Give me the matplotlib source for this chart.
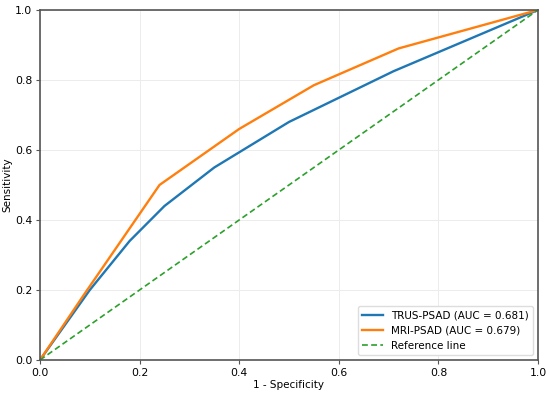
import matplotlib
matplotlib.use("Agg")
import matplotlib.pyplot as plt

# ROC points
trus_fpr = [0.0, 0.10, 0.18, 0.25, 0.35, 0.50, 0.71, 1.0]
trus_tpr = [0.0, 0.20, 0.34, 0.44, 0.55, 0.68, 0.825, 1.0]
mri_fpr = [0.0, 0.09, 0.24, 0.40, 0.55, 0.72, 1.0]
mri_tpr = [0.0, 0.19, 0.50, 0.66, 0.785, 0.89, 1.0]
ref_x = [0.0, 1.0]
ref_y = [0.0, 1.0]
trus_label = "TRUS-PSAD (AUC = 0.681)"
mri_label = "MRI-PSAD (AUC = 0.679)"

fig = plt.figure(figsize=(5.5, 3.96), dpi=100)
ax = fig.add_axes([0.0727, 0.0909, 0.9055, 0.884])

ax.plot(trus_fpr, trus_tpr, color="#1f77b4", lw=1.7, label=trus_label)
ax.plot(mri_fpr, mri_tpr, color="#ff7f0e", lw=1.7, label=mri_label)
ax.plot(ref_x, ref_y, color="#2ca02c", lw=1.2, ls=(0, (3.5, 2)), label="Reference line")

ax.set_xlim(0, 1)
ax.set_ylim(0, 1)
ax.set_xticks([0, 0.2, 0.4, 0.6, 0.8, 1.0])
ax.set_yticks([0, 0.2, 0.4, 0.6, 0.8, 1.0])
ax.tick_params(labelsize=7.8, length=3, pad=2.5, color="#555555")
ax.grid(True, color="#ececec", lw=0.7)
for s in ax.spines.values():
    s.set_color("#555555")
    s.set_linewidth(1.2)
ax.set_xlabel("1 - Specificity", fontsize=7.5, labelpad=2)
ax.set_ylabel("Sensitivity", fontsize=7.5, labelpad=2)
ax.legend(loc="lower right", fontsize=7.5, frameon=True, framealpha=1,
          edgecolor="#dddddd", handlelength=2.0)

fig.savefig("out.png", dpi=100)
